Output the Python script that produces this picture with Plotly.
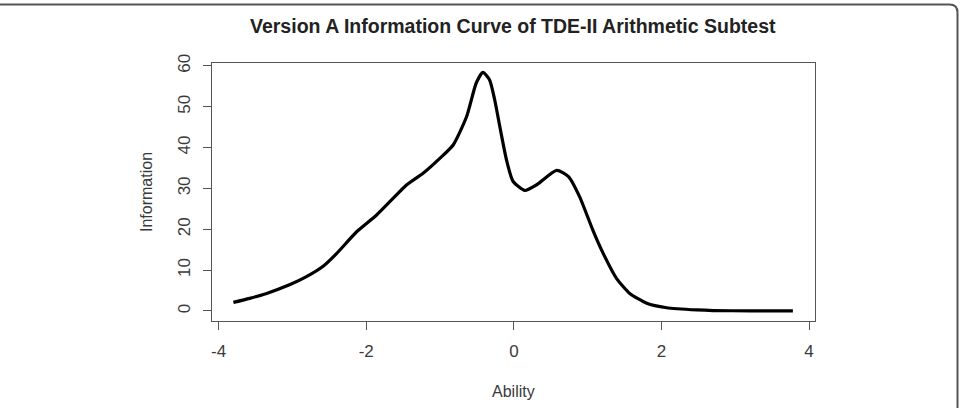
import plotly.graph_objects as go

# ---- data ----
ability = [-3.80, -3.58, -3.35, -3.04, -2.81, -2.58, -2.40, -2.13, -1.86, -1.45,
           -1.23, -1.00, -0.82, -0.64, -0.51, -0.42, -0.33, -0.26, -0.19, -0.10,
           -0.01, 0.15, 0.31, 0.58, 0.74, 0.89, 1.07, 1.21, 1.39, 1.57,
           1.80, 2.07, 2.48, 2.70, 3.20, 3.78]
information = [2.1, 3.1, 4.3, 6.4, 8.4, 11.0, 14.1, 19.4, 23.5, 30.9,
               33.7, 37.4, 40.7, 47.6, 55.8, 58.4, 56.6, 51.7, 45.1, 37.0,
               31.7, 29.5, 30.9, 34.4, 32.9, 28.0, 19.8, 14.1, 8.0, 4.3,
               1.9, 0.8, 0.25, 0.1, 0.05, 0.05]
x_ticks = [-4, -2, 0, 2, 4]
y_ticks = [0, 10, 20, 30, 40, 50, 60]

title_text = "Version A Information Curve of TDE-II Arithmetic Subtest"
x_label = "Ability"
y_label = "Information"

# ---- layout geometry (pixels) ----
W, H = 965, 408
L, R, T, B = 212, 815, 63, 321


def px(xp):
    return (xp - L) / (R - L)


def py(yp):
    return (B - yp) / (B - T)


axis_col = "#555555"
text_col = "#3a3a3a"
font_fam = "Liberation Sans, Arial, sans-serif"

fig = go.Figure()
fig.add_trace(go.Scatter(
    x=ability, y=information, mode="lines",
    line=dict(color="black", width=3.2, shape="spline", smoothing=0.6),
    showlegend=False, hoverinfo="skip"))

fig.update_layout(
    width=W, height=H,
    margin=dict(l=L, r=W - R, t=T, b=H - B),
    paper_bgcolor="white", plot_bgcolor="white",
    font=dict(family=font_fam, color=text_col),
    xaxis=dict(range=[-4.09, 4.08], tickvals=x_ticks, ticktext=[str(v) for v in x_ticks],
               showgrid=False, zeroline=False, showline=True, mirror=True,
               linecolor=axis_col, linewidth=1, ticks="outside", ticklen=8,
               tickcolor=axis_col, tickfont=dict(size=17, color=text_col),
               ticklabelstandoff=7),
    yaxis=dict(range=[-2.45, 60.7], tickvals=y_ticks, ticktext=[str(v) for v in y_ticks],
               showgrid=False, zeroline=False, showline=True, mirror=True,
               linecolor=axis_col, linewidth=1, ticks="outside", ticklen=8,
               tickcolor=axis_col, tickfont=dict(size=17, color=text_col),
               tickangle=-90, ticklabelstandoff=6),
)

# title and axis titles
fig.add_annotation(text="<b>" + title_text + "</b>", xref="paper", yref="paper",
                   x=px(513), y=py(26), showarrow=False,
                   font=dict(size=19.5, color="#222222", family=font_fam),
                   xanchor="center", yanchor="middle")
fig.add_annotation(text=x_label, xref="paper", yref="paper",
                   x=px(513), y=py(391), showarrow=False,
                   font=dict(size=16, color=text_col), xanchor="center", yanchor="middle")
fig.add_annotation(text=y_label, xref="paper", yref="paper",
                   x=px(146), y=py(192), showarrow=False, textangle=-90,
                   font=dict(size=16, color=text_col), xanchor="center", yanchor="middle")

# outer rounded frame (top and right edges visible)
r = 8
x0, x1, y0, y1 = -5, 957.5, 4.5, 420
path = (f"M {px(x0)},{py(y0)} L {px(x1 - r)},{py(y0)} "
        f"Q {px(x1)},{py(y0)} {px(x1)},{py(y0 + r)} L {px(x1)},{py(y1)}")
fig.add_shape(type="path", path=path, xref="paper", yref="paper",
              line=dict(color="#555555", width=2))

fig.write_html("out.html")
